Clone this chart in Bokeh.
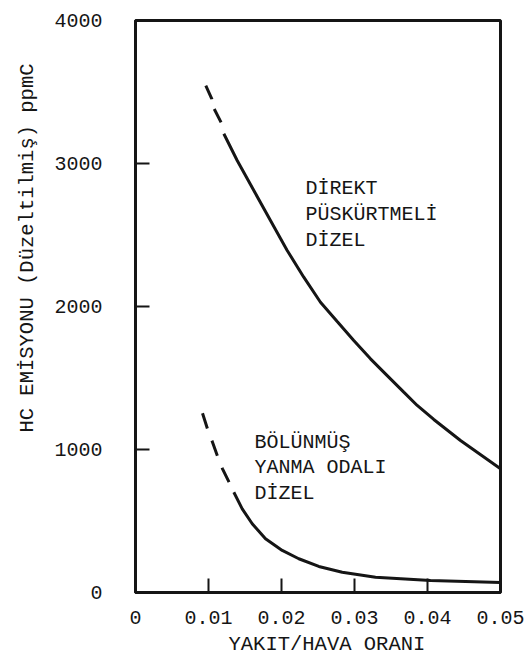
from bokeh.plotting import figure
from bokeh.models import FixedTicker, Label, Title
from bokeh.embed import file_html
from bokeh.resources import INLINE

# Fuel/air ratio axis and HC emission axis
x_ticks = [0, 0.01, 0.02, 0.03, 0.04, 0.05]
x_tick_labels = ["0", "0.01", "0.02", "0.03", "0.04", "0.05"]
y_ticks = [0, 1000, 2000, 3000, 4000]
y_tick_labels = ["0", "1000", "2000", "3000", "4000"]

# Direct-injection diesel: extrapolated (dashed) part and measured (solid) part
di_dash_x = [0.00963, 0.01045, 0.01077, 0.01178]
di_dash_y = [3545, 3452, 3383, 3282]
di_x = [0.01210, 0.01393, 0.01621, 0.01849, 0.02078, 0.02305, 0.02534,
        0.02763, 0.02990, 0.03219, 0.03448, 0.03675, 0.03859, 0.04086,
        0.04452, 0.05]
di_y = [3208, 3021, 2811, 2601, 2392, 2205, 2030,
        1895, 1762, 1634, 1517, 1401, 1308, 1210,
        1063, 865]

# Divided-chamber (indirect injection) diesel
idi_dash_x = [0.00918, 0.00986, 0.01055, 0.01145, 0.01192, 0.01282]
idi_dash_y = [1254, 1145, 1051, 923, 865, 771]
idi_x = [0.01347, 0.01462, 0.01599, 0.01781, 0.02010, 0.02237, 0.02511,
         0.02832, 0.03288, 0.04041, 0.05]
idi_y = [701, 585, 481, 376, 294, 236, 182,
         142, 107, 84, 70]

FONT = "Liberation Mono"
INK = "#151515"

p = figure(width=526, height=659, x_range=(0, 0.05), y_range=(0, 4000),
           output_backend="svg", toolbar_location=None,
           min_border_left=135, min_border_right=26,
           min_border_top=20, min_border_bottom=67)
p.background_fill_color = "white"
p.border_fill_color = "white"
p.grid.visible = False
p.outline_line_color = INK
p.outline_line_width = 3

for ax in (p.xaxis[0], p.yaxis[0]):
    ax.axis_line_color = INK
    ax.axis_line_width = 3
    ax.major_tick_in = 14
    ax.major_tick_out = 0
    ax.major_tick_line_width = 2
    ax.major_tick_line_color = INK
    ax.minor_tick_line_color = None
    ax.major_label_text_font = FONT
    ax.major_label_text_font_size = "20px"
    ax.major_label_text_color = INK

p.xaxis.ticker = FixedTicker(ticks=x_ticks)
p.xaxis.major_label_overrides = dict(zip(x_ticks, x_tick_labels))
p.xaxis.major_label_standoff = 18
p.yaxis.ticker = FixedTicker(ticks=y_ticks)
p.yaxis.major_label_overrides = dict(zip(y_ticks, y_tick_labels))
p.yaxis.major_label_standoff = 33

# Curves
p.line(di_dash_x, di_dash_y, line_color=INK, line_width=3, line_dash="15 10")
p.line(di_x, di_y, line_color=INK, line_width=3)
p.line(idi_dash_x, idi_dash_y, line_color=INK, line_width=3, line_dash="16 13")
p.line(idi_x, idi_y, line_color=INK, line_width=3)


def add_text(x, y, text):
    p.add_layout(Label(x=x, y=y, text=text, text_font=FONT,
                       text_font_size="20px", text_color=INK,
                       text_baseline="alphabetic"))


# Curve captions
for i, line in enumerate(["DİREKT", "PÜSKÜRTMELİ", "DİZEL"]):
    add_text(0.02329, 2825 - i * 182, line)
for i, line in enumerate(["BÖLÜNMÜŞ", "YANMA ODALI", "DİZEL"]):
    add_text(0.0163, 1049 - i * 178, line)

# Axis titles
x_title = Title(text="YAKIT/HAVA ORANI", align="left", offset=93,
                standoff=8, text_font=FONT, text_font_size="20.5px",
                text_font_style="normal", text_color=INK)
y_title = Title(text="HC EMİSYONU (Düzeltilmiş) ppmC", align="right",
                offset=43, standoff=25, text_font=FONT,
                text_font_size="20.5px", text_font_style="normal",
                text_color=INK)
p.add_layout(x_title, "below")
p.add_layout(y_title, "left")

open("out.html", "w").write(file_html(p, INLINE))
